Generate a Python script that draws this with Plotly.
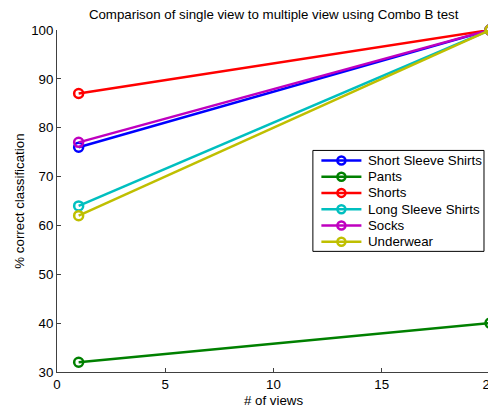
import plotly.graph_objects as go

x_views = [1, 20]
series_names = ["Short Sleeve Shirts", "Pants", "Shorts", "Long Sleeve Shirts", "Socks", "Underwear"]
short_sleeve = [76, 100]
pants = [32, 40]
shorts = [87, 100]
long_sleeve = [64, 100]
socks = [77, 100]
underwear = [62, 100]
x_ticks = [0, 5, 10, 15, 20]
y_ticks = [30, 40, 50, 60, 70, 80, 90, 100]
colors = ["#0000FF", "#008000", "#FF0000", "#00BFBF", "#BF00BF", "#BFBF00"]

values = [short_sleeve, pants, shorts, long_sleeve, socks, underwear]

# page offset (body margin of the html page)
OFF = 8
W, H = 496 - OFF, 411 - OFF
PL, PR, PT, PB = 57.3, 490, 29.5, 371.7  # plot area in page px
l, r, t, b = PL - OFF, W - (PR - OFF), PT - OFF, H - (PB - OFF)
pw, ph = PR - PL, PB - PT


def px(xp):
    return (xp - PL) / pw


def py(yp):
    return (PB - yp) / ph


FONT = "Liberation Sans, Arial, sans-serif"
FS = 13.3
AX = "#404040"

fig = go.Figure()
for name, vals, c in zip(series_names, values, colors):
    fig.add_trace(go.Scatter(
        x=x_views, y=vals, name=name, mode="lines+markers",
        line=dict(color=c, width=2.5),
        marker=dict(symbol="circle-open", size=9, color=c, line=dict(width=2.5, color=c)),
        cliponaxis=False, showlegend=False,
    ))

shapes = []
annotations = []
# legend box
lx0, lx1, ly0, ly1 = 313, 484, 150, 251
shapes.append(dict(type="rect", xref="paper", yref="paper", x0=px(lx0), x1=px(lx1),
                   y0=py(ly1), y1=py(ly0), line=dict(color="black", width=1),
                   fillcolor="white", layer="above"))
row_y = [160, 176.3, 192.5, 208.8, 225.2, 241.3]
for name, c, yy in zip(series_names, colors, row_y):
    shapes.append(dict(type="line", xref="paper", yref="paper", x0=px(321.5), x1=px(361.5),
                       y0=py(yy), y1=py(yy), line=dict(color=c, width=2.5), layer="above"))
    shapes.append(dict(type="circle", xref="paper", yref="paper", xsizemode="pixel",
                       ysizemode="pixel", xanchor=px(341.5), yanchor=py(yy),
                       x0=-4, x1=4, y0=-4, y1=4, line=dict(color=c, width=2.5),
                       fillcolor="rgba(0,0,0,0)", layer="above"))
    annotations.append(dict(text=name, xref="paper", yref="paper", x=px(366), y=py(yy),
                            xanchor="left", yanchor="middle", showarrow=False,
                            font=dict(size=FS, family=FONT, color="black")))

# axis titles
annotations.append(dict(text="# of views", xref="paper", yref="paper", x=0.5, y=py(400),
                        xanchor="center", yanchor="middle", showarrow=False,
                        font=dict(size=FS, family=FONT, color="black")))
annotations.append(dict(text="% correct classification", xref="paper", yref="paper",
                        x=px(19), y=0.5, xanchor="center", yanchor="middle", textangle=-90,
                        showarrow=False, font=dict(size=FS, family=FONT, color="black")))

fig.update_layout(
    width=W, height=H,
    margin=dict(l=l, r=r, t=t, b=b, pad=0, autoexpand=False),
    paper_bgcolor="white", plot_bgcolor="white",
    font=dict(family=FONT, size=FS, color="black"),
    title=dict(text="Comparison of single view to multiple view using Combo B test",
               x=(l + (W - r)) / 2 / W, xanchor="center", y=1 - (14.5 - OFF) / H, yanchor="middle",
               font=dict(size=FS), automargin=False),
    xaxis=dict(range=[0, 20], tickvals=x_ticks, ticks="inside", ticklen=4,
               tickcolor=AX, showline=True, linecolor=AX, linewidth=1,
               showgrid=False, zeroline=False,
               tickfont=dict(size=FS), automargin=False, ticklabeloverflow="allow"),
    yaxis=dict(range=[30, 100], tickvals=y_ticks, ticks="inside",
               ticklen=4, tickcolor=AX, showline=True, linecolor=AX, linewidth=1,
               showgrid=False, zeroline=False,
               tickfont=dict(size=FS), automargin=False, ticklabeloverflow="allow"),
    shapes=shapes, annotations=annotations,
    showlegend=False,
)

fig.write_html("out.html")
